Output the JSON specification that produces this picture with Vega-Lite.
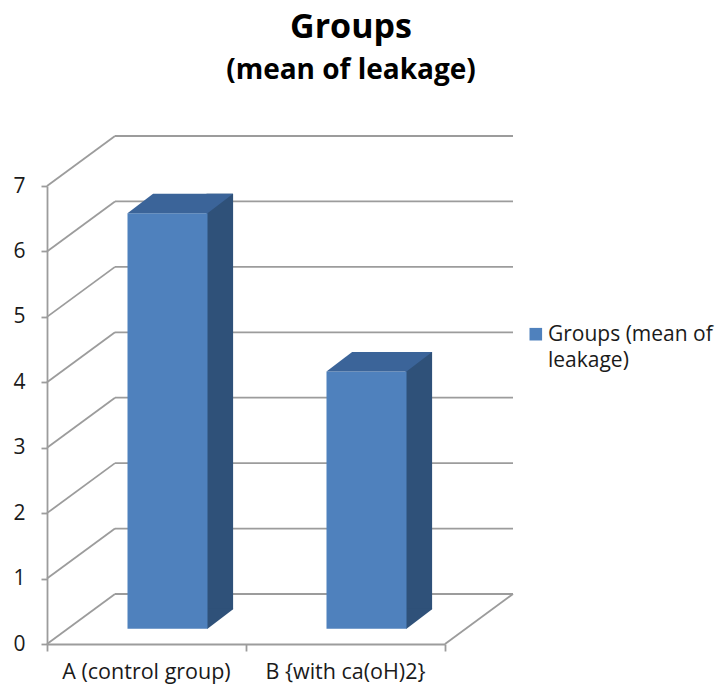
{
  "$schema": "https://vega.github.io/schema/vega-lite/v6.json",
  "width": 398,
  "height": 458,
  "autosize": {"type": "none"},
  "padding": {"left": 47, "top": 186, "right": 274, "bottom": 49},
  "background": "white",
  "config": {"view": {"stroke": null}, "font": "Open Sans", "style": {"guide-label": {"lineHeight": 26}}},
  "title": {
    "text": "Groups",
    "subtitle": "(mean of leakage)",
    "anchor": "middle",
    "frame": "group",
    "dx": 105,
    "dy": -30,
    "font": "Open Sans",
    "fontSize": 34,
    "fontWeight": "bold",
    "color": "#000000",
    "subtitleFont": "Open Sans",
    "subtitleFontSize": 28,
    "subtitleFontWeight": "bold",
    "subtitleColor": "#000000",
    "subtitlePadding": 12,
    "offset": 20
  },
  "datasets": {
    "bars": [
      {"group": "A (control group)", "value": 6.35, "series": "Groups (mean of leakage)"},
      {"group": "B {with ca(oH)2}", "value": 3.93, "series": "Groups (mean of leakage)"}
    ],
    "ticks": [
      {"v": 0}, {"v": 1}, {"v": 2}, {"v": 3}, {"v": 4}, {"v": 5}, {"v": 6}, {"v": 7}
    ]
  },
  "layer": [
    {
      "layer": [
        {
          "data": {"name": "ticks"},
          "mark": {"type": "rule", "color": "#9c9c9c", "strokeWidth": 1.8, "x2Offset": 68, "y2Offset": -50},
          "encoding": {
            "x": {
              "datum": 0,
              "type": "quantitative",
              "scale": {"domain": [0, 1], "nice": false, "zero": false},
              "axis": {
                "orient": "bottom",
                "values": [0, 0.5, 1],
                "labels": false,
                "ticks": true,
                "tickSize": 7,
                "tickColor": "#9c9c9c",
                "tickWidth": 1.8,
                "domainColor": "#9c9c9c",
                "domainWidth": 1.8,
                "grid": false,
                "title": null
              }
            },
            "x2": {"datum": 0},
            "y": {
              "field": "v",
              "type": "quantitative",
              "scale": {"domain": [0, 7], "nice": false, "zero": true},
              "axis": {
                "values": [0, 1, 2, 3, 4, 5, 6, 7],
                "format": "d",
                "grid": false,
                "title": null,
                "tickSize": 6,
                "tickColor": "#9c9c9c",
                "tickWidth": 1.8,
                "domainColor": "#9c9c9c",
                "domainWidth": 1.8,
                "labelPadding": 16,
                "labelFont": "Open Sans",
                "labelFontSize": 21,
                "labelColor": "#1a1a1a"
              }
            },
            "y2": {"field": "v"}
          }
        },
        {
          "data": {"name": "ticks"},
          "mark": {"type": "rule", "color": "#9c9c9c", "strokeWidth": 1.8, "xOffset": 68, "x2Offset": 68, "yOffset": -50, "y2Offset": -50},
          "encoding": {
            "x": {"datum": 0, "type": "quantitative"},
            "x2": {"datum": 1},
            "y": {"field": "v", "type": "quantitative"},
            "y2": {"field": "v"}
          }
        },
        {
          "data": {"values": [{"edge": "floor right"}]},
          "mark": {"type": "rule", "color": "#9c9c9c", "strokeWidth": 1.8, "x2Offset": 68, "y2Offset": -50},
          "encoding": {
            "x": {"datum": 1, "type": "quantitative"},
            "x2": {"datum": 1},
            "y": {"datum": 0, "type": "quantitative"},
            "y2": {"datum": 0}
          }
        }
      ]
    },
    {
      "data": {"name": "bars"},
      "encoding": {
        "x": {
          "field": "group",
          "type": "nominal",
          "scale": {"paddingInner": 0, "paddingOuter": 0},
          "axis": {
            "orient": "bottom",
            "ticks": false,
            "tickSize": 0,
            "domain": false,
            "labelPadding": 17,
            "labelFont": "Open Sans",
            "labelFontSize": 21.5,
            "labelAngle": 0,
            "labelColor": "#1a1a1a",
            "labelLimit": 0,
            "title": null
          }
        },
        "y": {"field": "value", "type": "quantitative", "axis": null}
      },
      "layer": [
        {
          "mark": {"type": "bar", "width": 26.6, "xOffset": 73.3, "yOffset": -34.8, "y2Offset": -34.8, "color": "#2f5179"}
        },
        {
          "mark": {"type": "point", "shape": "M60.5,-35.5L60.5,-15.3L61,-15.3L86.6,-34.8L86.6,-35.5Z", "size": 4, "filled": true, "opacity": 1, "strokeWidth": 0, "color": "#2f5179"},
          "encoding": {"y": {"datum": 0, "type": "quantitative", "axis": null}}
        },
        {
          "mark": {"type": "bar", "width": 80, "xOffset": 21, "yOffset": -15.3, "y2Offset": -15.3},
          "encoding": {
            "color": {
              "field": "series",
              "type": "nominal",
              "scale": {"range": ["#4f81bd"]},
              "legend": {
                "orient": "none",
                "legendX": 468,
                "legendY": 144,
                "title": null,
                "padding": 0,
                "symbolType": "M4,-12.6H16.6V0H4Z",
                "symbolSize": 4,
                "symbolStrokeWidth": 0,
                "symbolFillColor": "#4f81bd",
                "labelOffset": 12,
                "labelFont": "Open Sans",
                "labelFontSize": 21,
                "labelColor": "#1a1a1a",
                "labelLimit": 0,
                "labelBaseline": "alphabetic",
                "labelExpr": "['Groups (mean of', 'leakage)']"
              }
            }
          }
        },
        {
          "mark": {"type": "point", "shape": "M-19,-15.3L61,-15.3L86.6,-34.8L6.6,-34.8Z", "size": 4, "filled": true, "opacity": 1, "strokeWidth": 0, "color": "#3b6499"}
        }
      ]
    }
  ],
  "resolve": {"scale": {"x": "independent"}, "axis": {"x": "independent", "y": "independent"}}
}
